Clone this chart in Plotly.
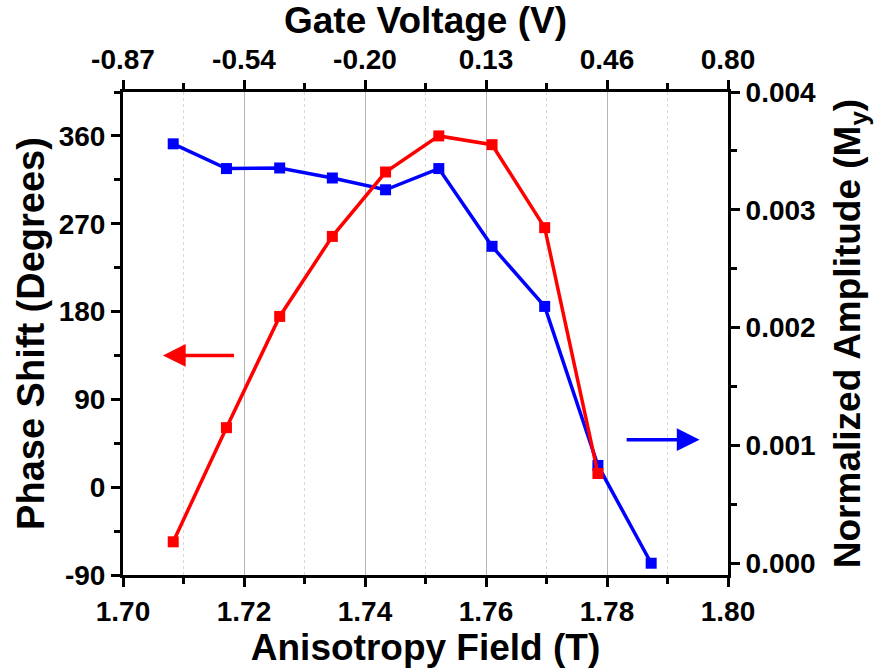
import plotly.graph_objects as go

# Data
aniso_field = [1.7083, 1.7171, 1.7259, 1.7346, 1.7434, 1.7522, 1.7610, 1.7697, 1.7785, 1.7873]
phase_shift = [-56, 61, 175, 257, 323, 360, 351, 266, 14]
amplitude = [0.00356, 0.00335, 0.003355, 0.00327, 0.00317, 0.00335, 0.00269, 0.00218, 0.00083, 0.0]
gate_ticks = [1.70, 1.72, 1.74, 1.76, 1.78, 1.80]
gate_labels = ["-0.87", "-0.54", "-0.20", "0.13", "0.46", "0.80"]
phase_ticks = [-90, 0, 90, 180, 270, 360]
phase_labels = ["-90", "0", "90", "180", "270", "360"]

# arrow annotations (x tip, x tail, y on phase axis)
arrow_red = dict(x=1.7066, ax=1.7186, y=135)
arrow_blue = dict(x=1.7953, ax=1.7830, y=48.7)

RED = "#ff0000"
BLUE = "#0000ff"
FONT = "Liberation Sans"

fig = go.Figure()

# amplitude on primary y (right side), drawn beneath
fig.add_trace(go.Scatter(
    x=aniso_field, y=amplitude, mode="lines+markers", xaxis="x", yaxis="y",
    line=dict(color=BLUE, width=3.5), marker=dict(symbol="square", size=11, color=BLUE),
    showlegend=False))
# phase on y2 (left side), drawn on top
fig.add_trace(go.Scatter(
    x=aniso_field[:len(phase_shift)], y=phase_shift, mode="lines+markers", xaxis="x", yaxis="y2",
    line=dict(color=RED, width=3.5), marker=dict(symbol="square", size=11, color=RED),
    showlegend=False))
# invisible trace for top axis
fig.add_trace(go.Scatter(x=[gate_ticks[0], gate_ticks[-1]], y=[None, None], xaxis="x2", yaxis="y",
                         mode="lines", showlegend=False, hoverinfo="skip"))

tickfont = dict(family=FONT, size=28, color="black", weight="bold")
titlefont = dict(family=FONT, size=37, color="black", weight="bold")
axis_common = dict(showline=True, linecolor="black", linewidth=3, ticks="outside",
                   tickwidth=3, ticklen=9, tickcolor="black", tickfont=tickfont, zeroline=False)

fig.update_layout(
    width=877, height=670,
    margin=dict(l=123, r=149, t=92, b=87),
    plot_bgcolor="white", paper_bgcolor="white",
    font=dict(family=FONT, weight="bold"),
    xaxis=dict(**axis_common, range=[1.70, 1.80], dtick=0.02, tick0=1.70, tickformat=".2f",
               showgrid=True, gridcolor="#b4b4b4", gridwidth=1.2,
               minor=dict(dtick=0.01, ticks="outside", ticklen=6, tickwidth=3, tickcolor="black",
                          showgrid=True, gridcolor="#d8d8d8", griddash="dot", gridwidth=1),
               title=dict(text="Anisotropy Field (T)", font=titlefont, standoff=6)),
    xaxis2=dict(**axis_common, overlaying="x", side="top", anchor="y", range=[1.70, 1.80],
                tickmode="array", tickvals=gate_ticks, ticktext=gate_labels, showgrid=False,
                minor=dict(tickvals=[1.71, 1.73, 1.75, 1.77, 1.79], ticks="outside", ticklen=6,
                           tickwidth=3, tickcolor="black", showgrid=False),
                title=dict(text="Gate Voltage (V)", font=titlefont, standoff=6)),
    yaxis=dict(**axis_common, side="right", range=[-0.0001, 0.004], dtick=0.001, tick0=0,
               tickformat=".3f", showgrid=False,
               minor=dict(dtick=0.0005, tick0=0, ticks="outside", ticklen=6, tickwidth=3,
                          tickcolor="black", showgrid=False),
               title=dict(text="Normalized Amplitude (M<sub>y</sub>)", font=titlefont, standoff=20)),
    yaxis2=dict(**axis_common, side="left", overlaying="y", anchor="x", range=[-90, 405],
                tickmode="array", tickvals=phase_ticks, ticktext=phase_labels, showgrid=False,
                minor=dict(dtick=45, tick0=-90, ticks="outside", ticklen=6, tickwidth=3,
                           tickcolor="black", showgrid=False),
                title=dict(text="Phase Shift (Degrees)", font=dict(family=FONT, size=38, color="black", weight="bold"), standoff=3)),
    annotations=[
        dict(x=arrow_red["x"], y=arrow_red["y"], ax=arrow_red["ax"], ay=arrow_red["y"],
             xref="x", yref="y2", axref="x", ayref="y2", text="", showarrow=True,
             arrowhead=2, arrowsize=1.3, arrowwidth=3.5, arrowcolor=RED),
        dict(x=arrow_blue["x"], y=arrow_blue["y"], ax=arrow_blue["ax"], ay=arrow_blue["y"],
             xref="x", yref="y2", axref="x", ayref="y2", text="", showarrow=True,
             arrowhead=2, arrowsize=1.3, arrowwidth=3.5, arrowcolor=BLUE),
    ],
)

fig.write_html("out.html")
